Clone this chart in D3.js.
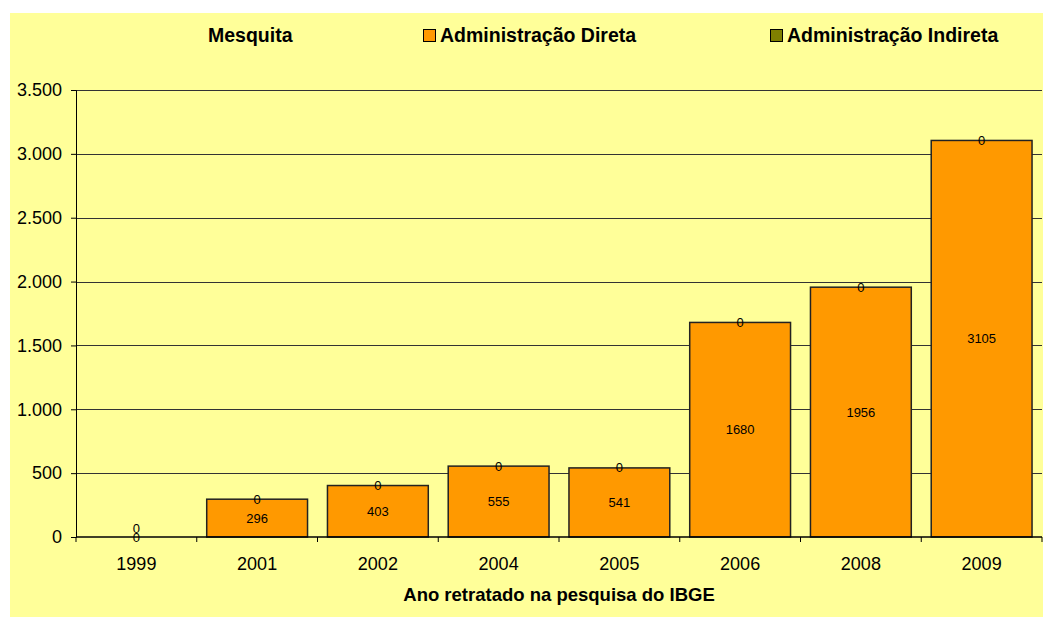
<!DOCTYPE html>
<html>
<head>
<meta charset="utf-8">
<script src="https://cdn.jsdelivr.net/npm/d3@7"></script>
<style>
  body { margin: 0; background: #fff; }
  text { font-family: "Liberation Sans", Arial, sans-serif; }
</style>
</head>
<body>
<div id="chart"></div>
<script>
var years = ["1999", "2001", "2002", "2004", "2005", "2006", "2008", "2009"];
var direta = [0, 296, 403, 555, 541, 1680, 1956, 3105];
var indireta = [0, 0, 0, 0, 0, 0, 0, 0];
var yTicks = [0, 500, 1000, 1500, 2000, 2500, 3000, 3500];
var legendLabels = ["Mesquita", "Administração Direta", "Administração Indireta"];
var xTitle = "Ano retratado na pesquisa do IBGE";

var W = 1043, H = 617;
var margin = {top: 90, right: 1, bottom: 80, left: 76};
var width = W - margin.left - margin.right;
var height = H - margin.top - margin.bottom;

var colors = {direta: "#ff9900", indireta: "#808000", bg: "#ffff99"};

var svg = d3.select("#chart").append("svg")
    .attr("width", W)
    .attr("height", H);

svg.append("rect")
    .attr("x", 10).attr("y", 13)
    .attr("width", W - 10).attr("height", H - 13)
    .attr("fill", colors.bg);

var g = svg.append("g")
    .attr("transform", "translate(" + margin.left + "," + margin.top + ")");

var x = d3.scaleBand().domain(years).range([0, width]).paddingInner(0.165).paddingOuter(0.0825);
var band = d3.scaleBand().domain(years).range([0, width]);
var y = d3.scaleLinear().domain([0, 3500]).range([height, 0]);

// gridlines
g.append("g")
    .selectAll("line")
    .data(yTicks.slice(1))
    .join("line")
    .attr("x1", 0).attr("x2", width)
    .attr("y1", function(d) { return Math.round(y(d)) + 0.5; })
    .attr("y2", function(d) { return Math.round(y(d)) + 0.5; })
    .attr("stroke", "#333")
    .attr("stroke-width", 1);

// y axis
var yAxis = d3.axisLeft(y)
    .tickValues(yTicks)
    .tickSize(5)
    .tickPadding(9)
    .tickFormat(function(d) { return d3.format(",")(d).replace(/,/g, "."); });
var yg = g.append("g").call(yAxis);
yg.selectAll("text").style("font-size", "18px").attr("fill", "#000");
yg.selectAll("line,path").attr("stroke", "#000");

// bars (stacked: direta + indireta)
var rows = years.map(function(yr, i) { return {year: yr, direta: direta[i], indireta: indireta[i]}; });

g.append("g")
    .selectAll("rect")
    .data(rows)
    .join("rect")
    .attr("x", function(d) { return x(d.year); })
    .attr("width", x.bandwidth())
    .attr("y", function(d) { return y(d.direta); })
    .attr("height", function(d) { return y(0) - y(d.direta); })
    .attr("fill", colors.direta)
    .attr("stroke", "#222")
    .attr("stroke-width", 1.5);

g.append("g")
    .selectAll("rect")
    .data(rows)
    .join("rect")
    .attr("x", function(d) { return x(d.year); })
    .attr("width", x.bandwidth())
    .attr("y", function(d) { return y(d.direta + d.indireta); })
    .attr("height", function(d) { return y(d.direta) - y(d.direta + d.indireta); })
    .attr("fill", colors.indireta)
    .attr("stroke", "#222");

// x axis
g.append("line")
    .attr("x1", 0).attr("x2", width)
    .attr("y1", height).attr("y2", height)
    .attr("stroke", "#000").attr("stroke-width", 1.5);
g.append("g")
    .selectAll("line")
    .data(years.concat(["end"]))
    .join("line")
    .attr("x1", function(d, i) { return i < years.length ? band(d) : width; })
    .attr("x2", function(d, i) { return i < years.length ? band(d) : width; })
    .attr("y1", height).attr("y2", height + 5)
    .attr("stroke", "#000");
g.append("g")
    .selectAll("text")
    .data(years)
    .join("text")
    .attr("x", function(d) { return band(d) + band.bandwidth() / 2; })
    .attr("y", height + 33)
    .attr("text-anchor", "middle")
    .style("font-size", "18px")
    .text(function(d) { return d; });

// data labels
g.append("g")
    .selectAll("text")
    .data(rows)
    .join("text")
    .attr("x", function(d) { return x(d.year) + x.bandwidth() / 2; })
    .attr("y", function(d) { return (y(0) + y(d.direta)) / 2; })
    .attr("dy", "0.35em")
    .attr("text-anchor", "middle")
    .style("font-size", "13px")
    .text(function(d) { return d.direta; });

g.append("g")
    .selectAll("text")
    .data(rows)
    .join("text")
    .attr("x", function(d) { return x(d.year) + x.bandwidth() / 2; })
    .attr("y", function(d) {
        var top = y(d.direta + d.indireta);
        var mid = (y(0) + y(d.direta)) / 2;
        return (mid - top < 12) ? mid - 9 : top;
    })
    .attr("dy", "0.35em")
    .attr("text-anchor", "middle")
    .style("font-size", "13px")
    .text(function(d) { return d.indireta; });

// x title
svg.append("text")
    .attr("x", margin.left + width / 2)
    .attr("y", 601)
    .attr("text-anchor", "middle")
    .style("font-size", "18.5px")
    .style("font-weight", "bold")
    .text(xTitle);

// legend
var legendX = [208, 423, 770];
var legend = svg.selectAll(".legend")
    .data(legendLabels)
    .join("g")
    .attr("class", "legend")
    .attr("transform", function(d, i) { return "translate(" + legendX[i] + ",35)"; });

legend.filter(function(d, i) { return i > 0; })
    .append("rect")
    .attr("x", 0.5).attr("y", -5.5)
    .attr("width", 12).attr("height", 12)
    .attr("fill", function(d, i) { return i === 0 ? colors.direta : colors.indireta; })
    .attr("stroke", "#000");

legend.append("text")
    .attr("x", function(d, i) { return i > 0 ? 17 : 0; })
    .attr("dy", "0.35em")
    .style("font-size", "19.5px")
    .style("font-weight", "bold")
    .text(function(d) { return d; });
</script>
</body>
</html>
